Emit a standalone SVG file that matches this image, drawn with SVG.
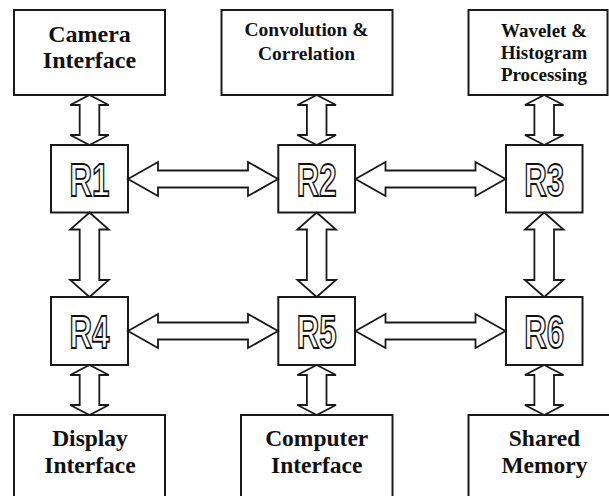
<svg xmlns="http://www.w3.org/2000/svg" xmlns:xlink="http://www.w3.org/1999/xlink" width="609" height="496" viewBox="0 0 609 496">
  <style>
    .box { fill: #ffffff; stroke: #1a1a1a; stroke-width: 2; }
    .arrow { fill: #ffffff; stroke: #1a1a1a; stroke-width: 1.8; stroke-linejoin: miter; }
    .lbl { font-family: "Liberation Serif", "Times New Roman", serif; font-weight: bold; fill: #111111; text-anchor: middle; }
    .rt { font-family: "Liberation Sans", Arial, sans-serif; font-weight: bold; font-size: 46px; fill: #ffffff; stroke: #111111; stroke-width: 1.8; text-anchor: middle; }
  </style>
  <defs>
    <!-- horizontal double-headed block arrow, 150 long, centred on y=0 -->
    <polygon id="ha" points="0,0 30,-17 30,-8.5 120,-8.5 120,-17 150,0 120,17 120,8.5 30,8.5 30,17"/>
    <!-- short vertical double-headed block arrow (box to router) -->
    <polygon id="vs" points="0,0 19.3,10 9.8,10 9.8,40 19.3,40 0,50 -19.3,40 -9.8,40 -9.8,10 -19.3,10"/>
    <!-- long vertical double-headed block arrow (router to router) -->
    <polygon id="vl" points="0,0 19.3,17 9.8,17 9.8,67.5 19.3,67.5 0,84.5 -19.3,67.5 -9.8,67.5 -9.8,17 -19.3,17"/>
  </defs>

  <rect width="609" height="496" fill="#ffffff"/>

  <!-- peripheral blocks, top row -->
  <g id="camera">
    <rect class="box" x="14" y="10" width="151" height="85"/>
    <text class="lbl" font-size="24" x="89.5" y="41.5">Camera</text>
    <text class="lbl" font-size="24" x="89.5" y="68">Interface</text>
  </g>
  <g id="convolution">
    <rect class="box" x="221.5" y="10" width="171" height="85"/>
    <text class="lbl" font-size="19.5" x="306.5" y="36">Convolution &amp;</text>
    <text class="lbl" font-size="19.5" x="306.5" y="60">Correlation</text>
  </g>
  <g id="wavelet">
    <rect class="box" x="468.5" y="10" width="139" height="85"/>
    <text class="lbl" font-size="19" x="544" y="36.5">Wavelet &amp;</text>
    <text class="lbl" font-size="19" x="544" y="58.5">Histogram</text>
    <text class="lbl" font-size="19" x="544" y="80.5">Processing</text>
  </g>

  <!-- routers -->
  <g id="R1">
    <rect class="box" x="51" y="145" width="77" height="67.5"/>
    <text class="rt" x="89.5" y="196" textLength="40" lengthAdjust="spacingAndGlyphs">R1</text>
  </g>
  <g id="R2">
    <rect class="box" x="278.3" y="145" width="76.7" height="67.5"/>
    <text class="rt" x="316.7" y="196" textLength="40" lengthAdjust="spacingAndGlyphs">R2</text>
  </g>
  <g id="R3">
    <rect class="box" x="506" y="145" width="76.5" height="67.5"/>
    <text class="rt" x="544.2" y="196" textLength="40" lengthAdjust="spacingAndGlyphs">R3</text>
  </g>
  <g id="R4">
    <rect class="box" x="51" y="297" width="77" height="68"/>
    <text class="rt" x="89.5" y="348" textLength="40" lengthAdjust="spacingAndGlyphs">R4</text>
  </g>
  <g id="R5">
    <rect class="box" x="278.3" y="297" width="76.7" height="68"/>
    <text class="rt" x="316.7" y="348" textLength="40" lengthAdjust="spacingAndGlyphs">R5</text>
  </g>
  <g id="R6">
    <rect class="box" x="506" y="297" width="76.5" height="68"/>
    <text class="rt" x="544.2" y="348" textLength="40" lengthAdjust="spacingAndGlyphs">R6</text>
  </g>

  <!-- peripheral blocks, bottom row -->
  <g id="display">
    <rect class="box" x="14" y="415" width="151" height="95"/>
    <text class="lbl" font-size="23.5" x="90" y="445.5">Display</text>
    <text class="lbl" font-size="23.5" x="90" y="473">Interface</text>
  </g>
  <g id="computer">
    <rect class="box" x="241" y="415" width="151.5" height="95"/>
    <text class="lbl" font-size="23.5" x="316.7" y="445.5">Computer</text>
    <text class="lbl" font-size="23.5" x="316.7" y="473">Interface</text>
  </g>
  <g id="memory">
    <rect class="box" x="468.5" y="415" width="152" height="95"/>
    <text class="lbl" font-size="23.5" x="544.5" y="445.5">Shared</text>
    <text class="lbl" font-size="23.5" x="544.5" y="473">Memory</text>
  </g>

  <!-- links -->
  <g id="connectors" class="arrow">
    <!-- peripherals to routers -->
    <use xlink:href="#vs" x="89.5" y="95"/>
    <use xlink:href="#vs" x="316.7" y="95"/>
    <use xlink:href="#vs" x="544.2" y="95"/>
    <use xlink:href="#vs" x="89.5" y="365"/>
    <use xlink:href="#vs" x="316.7" y="365"/>
    <use xlink:href="#vs" x="544.2" y="365"/>
    <!-- vertical router links -->
    <use xlink:href="#vl" x="89.5" y="212.5"/>
    <use xlink:href="#vl" x="316.7" y="212.5"/>
    <use xlink:href="#vl" x="544.2" y="212.5"/>
    <!-- horizontal router links -->
    <use xlink:href="#ha" x="128" y="179"/>
    <use xlink:href="#ha" x="355.5" y="179"/>
    <use xlink:href="#ha" x="128" y="331"/>
    <use xlink:href="#ha" x="355.5" y="331"/>
  </g>
</svg>
